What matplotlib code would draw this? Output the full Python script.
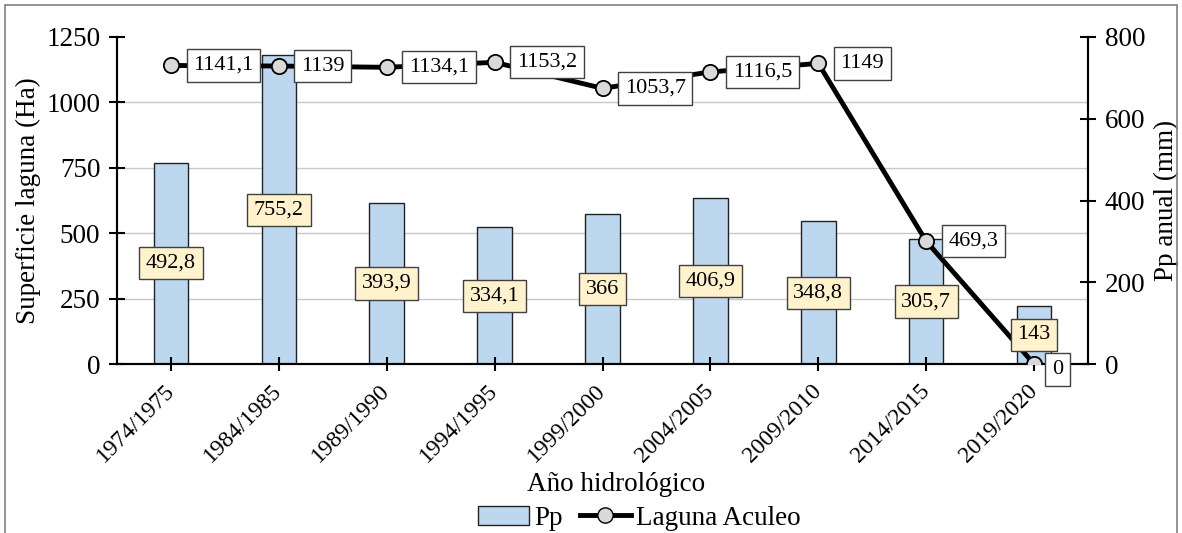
import numpy as np
import matplotlib
matplotlib.use("Agg")
import matplotlib.pyplot as plt
from matplotlib.patches import Patch, Rectangle
from matplotlib.lines import Line2D

plt.rcParams['font.family'] = ['Liberation Serif', 'DejaVu Serif']

# datos
anios = ['1974/1975', '1984/1985', '1989/1990', '1994/1995', '1999/2000',
         '2004/2005', '2009/2010', '2014/2015', '2019/2020']
pp = [492.8, 755.2, 393.9, 334.1, 366, 406.9, 348.8, 305.7, 143]
laguna = [1141.1, 1139, 1134.1, 1153.2, 1053.7, 1116.5, 1149, 469.3, 0]

def fmt(v):
    s = ('%.1f' % v).rstrip('0').rstrip('.')
    return s.replace('.', ',')

fig = plt.figure(figsize=(11.82, 5.33), dpi=100)
ax = fig.add_axes([0.099, 0.317, 0.8215, 0.6136])
ax2 = ax.twinx()
ax.set_zorder(ax2.get_zorder() + 1)
ax.patch.set_visible(False)

x = np.arange(len(anios))

# barras (eje derecho)
ax2.bar(x, pp, width=0.32, color='#BDD7EE', edgecolor='#222222', linewidth=1.0, zorder=2)
ax2.set_ylim(0, 800)
ax2.set_yticks([0, 200, 400, 600, 800])
ax2.set_yticks(np.arange(0, 1251, 250) * 800 / 1250, minor=True)
ax2.grid(which='minor', axis='y', color='#C8C8C8', linewidth=1.0, zorder=0)
ax2.set_axisbelow(True)
ax2.tick_params(axis='y', which='minor', length=0)
ax2.tick_params(axis='y', which='major', direction='inout', length=12, width=1.5, labelsize=19.5, pad=6)
ax2.set_ylabel('Pp anual (mm)', fontsize=19.5, labelpad=6)

# linea (eje izquierdo)
ax.plot(x, laguna, color='black', linewidth=3.5, marker='o', markersize=11,
        markerfacecolor='#D9D9D9', markeredgecolor='black', markeredgewidth=1.3, zorder=3)
ax.set_ylim(0, 1250)
ax.set_yticks(np.arange(0, 1251, 250))
ax.set_xlim(-0.5, len(anios) - 0.5)
ax.set_xticks(x)
ax.set_xticklabels(anios, rotation=45, ha='right', va='center', rotation_mode='anchor', fontsize=17)
ax.tick_params(axis='y', direction='inout', length=12, width=1.5, labelsize=19.5, pad=6)
ax.tick_params(axis='x', direction='inout', length=10, width=1.5, pad=12)
ax.set_ylabel('Superficie laguna (Ha)', fontsize=19.5, labelpad=4)
ax.set_xlabel('Año hidrológico', fontsize=19.5)
ax.xaxis.set_label_coords(0.514, -0.33)

for a in (ax, ax2):
    a.spines['top'].set_visible(False)
    for s in ('left', 'right', 'bottom'):
        a.spines[s].set_linewidth(1.5)
        a.spines[s].set_color('black')

# etiquetas de barras
for i, v in enumerate(pp):
    ax.text(i, v / 2 * 1250 / 800, fmt(v), ha='center', va='center', fontsize=16, zorder=10,
            bbox=dict(boxstyle='square,pad=0.3', facecolor='#FFF2CC', edgecolor='#404040', linewidth=1))

# etiquetas de la linea
for i, v in enumerate(laguna):
    off = (13, -4) if v == 0 else (16, 0)
    ax.annotate(fmt(v), xy=(i, v), xytext=off, textcoords='offset points',
                ha='left', va='center', fontsize=16, zorder=10,
                bbox=dict(boxstyle='square,pad=0.3', facecolor='white', edgecolor='#404040', linewidth=1))

handles = [Patch(facecolor='#BDD7EE', edgecolor='#222222', linewidth=1.0),
           Line2D([], [], color='black', linewidth=3.5, marker='o', markersize=11,
                  markerfacecolor='#D9D9D9', markeredgecolor='black')]
fig.legend(handles, ['Pp', 'Laguna Aculeo'], loc='center', bbox_to_anchor=(0.541, 0.028),
           ncol=2, frameon=False, fontsize=19.5, handlelength=1.9, handletextpad=0.2,
           columnspacing=0.6, borderaxespad=0)

# borde del area del grafico
fig.add_artist(Rectangle((5 / 1182, -0.1), 1172 / 1182, 1.1 - 5 / 533, transform=fig.transFigure,
                         fill=False, edgecolor='#808080', linewidth=1.2))

fig.savefig('out.png', dpi=100)
